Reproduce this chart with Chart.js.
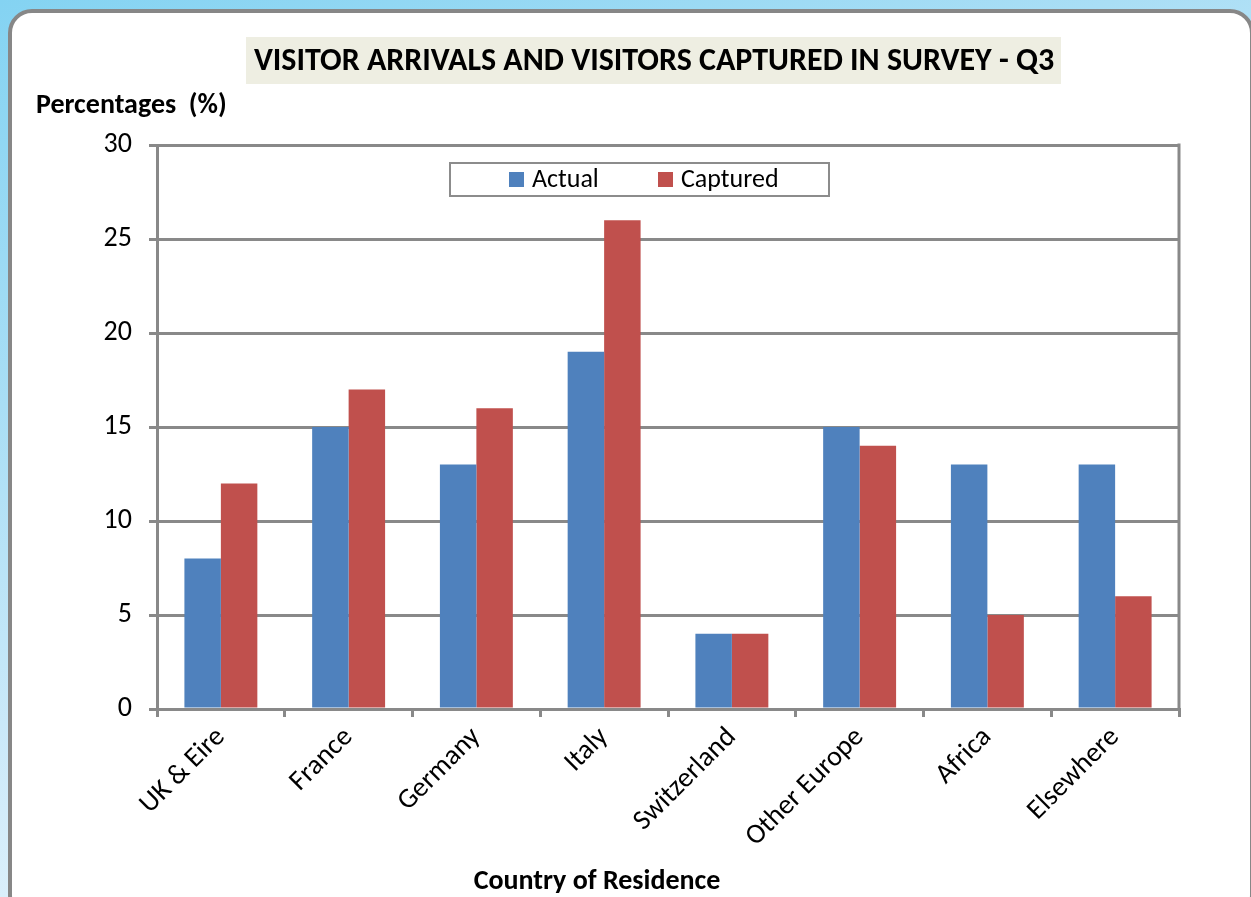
<!DOCTYPE html>
<html>
<head>
<meta charset="utf-8">
<title>Visitor Arrivals and Visitors Captured in Survey - Q3</title>
<script src="https://cdn.jsdelivr.net/npm/chart.js@4.4.1/dist/chart.umd.min.js"></script>
<style>
  html, body { margin: 0; padding: 0; }
  body {
    width: 1251px; height: 897px; overflow: hidden; position: relative;
    background: linear-gradient(160deg, #84d3f2 0%, #a9def5 30%, #d3ecfa 60%, #f4fafe 90%);
  }
  #frame {
    position: absolute; left: 8px; top: 9px; width: 1246px; height: 910px;
    box-sizing: border-box; border: 4px solid #878787; border-radius: 24px; background: #ffffff;
  }
  #chart { position: absolute; left: 0; top: 0; }
</style>
</head>
<body>
<div id="frame"></div>
<canvas id="chart" width="1251" height="897"></canvas>
<script>
// Countries of residence and the two percentage series
const categories = ['UK & Eire', 'France', 'Germany', 'Italy', 'Switzerland', 'Other Europe', 'Africa', 'Elsewhere'];
const actual = [8, 15, 13, 19, 4, 15, 13, 13];
const captured = [12, 17, 16, 26, 4, 14, 5, 6];
const yTickValues = [0, 5, 10, 15, 20, 25, 30];

const chartTitle = 'VISITOR ARRIVALS AND VISITORS CAPTURED IN SURVEY - Q3';
const yAxisTitle = 'Percentages  (%)';
const xAxisTitle = 'Country of Residence';

const FONT = 'Carlito, Lato, "Open Sans", sans-serif';
const GRID = '#898989';

// Title box, axis titles, boxed legend and the right-hand frame of the plot
const decorations = {
  id: 'decorations',
  beforeDatasetsDraw(chart) {
    const { ctx, chartArea: a } = chart;
    ctx.save();
    ctx.strokeStyle = GRID;
    ctx.lineWidth = 3;
    ctx.beginPath();
    ctx.moveTo(a.right, a.top - 1.5);
    ctx.lineTo(a.right, a.bottom);
    ctx.stroke();
    ctx.restore();
  },
  afterDraw(chart) {
    const { ctx } = chart;
    ctx.save();

    // main title on a pale beige band
    ctx.fillStyle = '#eeeee2';
    ctx.fillRect(246, 37, 815, 47);
    ctx.fillStyle = '#000';
    ctx.font = 'bold 32px ' + FONT;
    ctx.textAlign = 'center';
    ctx.textBaseline = 'middle';
    ctx.fillText(chartTitle, 654, 62);

    // y axis title, horizontal above the axis
    ctx.font = 'bold 28px ' + FONT;
    ctx.textAlign = 'left';
    ctx.fillText(yAxisTitle, 36, 106);

    // x axis title
    ctx.textAlign = 'center';
    ctx.fillText(xAxisTitle, 597, 882);

    // legend box inside the plot area
    const lx = 450, ly = 163, lw = 379, lh = 33;
    ctx.fillStyle = '#fff';
    ctx.fillRect(lx, ly, lw, lh);
    ctx.strokeStyle = '#8c8c8c';
    ctx.lineWidth = 2;
    ctx.strokeRect(lx, ly, lw, lh);
    const items = chart.data.datasets;
    const starts = [509, 658];
    ctx.font = '26px ' + FONT;
    ctx.textAlign = 'left';
    ctx.textBaseline = 'middle';
    items.forEach((ds, i) => {
      ctx.fillStyle = ds.backgroundColor;
      ctx.fillRect(starts[i], ly + 9, 15, 15);
      ctx.fillStyle = '#000';
      ctx.fillText(ds.label, starts[i] + 23, ly + lh / 2 + 1);
    });

    ctx.restore();
  }
};

new Chart(document.getElementById('chart'), {
  type: 'bar',
  data: {
    labels: categories,
    datasets: [
      { label: 'Actual', data: actual, backgroundColor: '#4f81bd' },
      { label: 'Captured', data: captured, backgroundColor: '#c0504d' }
    ]
  },
  options: {
    responsive: false,
    animation: false,
    devicePixelRatio: 1,
    layout: { padding: { left: 0, top: 145, right: 72, bottom: 0 } },
    datasets: { bar: { categoryPercentage: 0.571, barPercentage: 1.0 } },
    plugins: {
      legend: { display: false },
      title: { display: false },
      tooltip: { enabled: false }
    },
    scales: {
      x: {
        offset: true,
        grid: {
          offset: true,
          drawOnChartArea: false,
          drawTicks: true,
          tickLength: 8,
          color: GRID,
          lineWidth: 3
        },
        border: { color: GRID, width: 3 },
        ticks: {
          color: '#000',
          font: { family: FONT, size: 28 },
          minRotation: 45,
          maxRotation: 45,
          padding: 4,
          autoSkip: false
        },
        afterFit(scale) { scale.height = 188; }
      },
      y: {
        min: yTickValues[0],
        max: yTickValues[yTickValues.length - 1],
        afterBuildTicks(scale) { scale.ticks = yTickValues.map(v => ({ value: v })); },
        grid: {
          color: GRID,
          lineWidth: 3,
          drawTicks: true,
          tickLength: 8
        },
        border: { color: GRID, width: 3 },
        ticks: {
          color: '#000',
          font: { family: FONT, size: 28 },
          padding: 17
        },
        afterFit(scale) { scale.width = 157; }
      }
    }
  },
  plugins: [decorations]
});
</script>
</body>
</html>
